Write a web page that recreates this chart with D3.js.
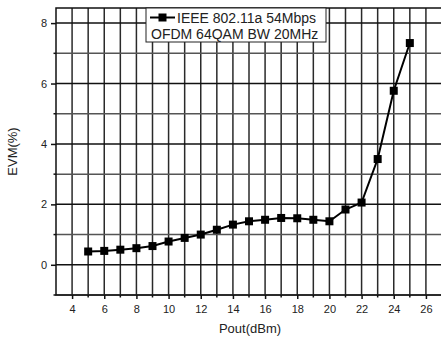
<!DOCTYPE html>
<html>
<head>
<meta charset="utf-8">
<script src="https://cdn.jsdelivr.net/npm/d3@7"></script>
<style>
  html, body { margin: 0; padding: 0; background: #fff; }
  svg { display: block; font-family: "Liberation Sans", Arial, sans-serif; }
</style>
</head>
<body>
<svg id="chart" width="441" height="342"></svg>
<script>
// Output power sweep (dBm) and measured EVM (%)
const pout = [5, 6, 7, 8, 9, 10, 11, 12, 13, 14, 15, 16, 17, 18, 19, 20, 21, 22, 23, 24, 25];
const evm = [0.44, 0.46, 0.50, 0.55, 0.62, 0.77, 0.89, 1.00, 1.16, 1.33, 1.44, 1.49, 1.55, 1.54, 1.49, 1.44, 1.83, 2.06, 3.50, 5.76, 7.34];
const xTicks = [4, 6, 8, 10, 12, 14, 16, 18, 20, 22, 24, 26];
const yTicks = [0, 2, 4, 6, 8];
const legendLines = ["IEEE 802.11a 54Mbps", "OFDM 64QAM BW 20MHz"];

const svg = d3.select("#chart");
const plotL = 56, plotR = 442, plotT = 8, plotB = 295;

const x = d3.scaleLinear().domain([3, 27]).range([plotL, plotR]);
const y = d3.scaleLinear().domain([-1, 8.5]).range([plotB, plotT]);

// grid: one line per unit, darker on labelled values
const gx = d3.range(4, 27);
const gy = d3.range(-1, 9);
svg.append("g").selectAll("line").data(gx).join("line")
  .attr("x1", d => x(d)).attr("x2", d => x(d))
  .attr("y1", plotT).attr("y2", plotB)
  .attr("stroke", "#2a2a2a")
  .attr("stroke-width", 1.5);
svg.append("g").selectAll("line").data(gy).join("line")
  .attr("x1", plotL).attr("x2", plotR)
  .attr("y1", d => y(d)).attr("y2", d => y(d))
  .attr("stroke", d => d % 2 === 0 ? "#111" : "#555")
  .attr("stroke-width", 1.5);

// frame
svg.append("rect").attr("x", plotL).attr("y", plotT)
  .attr("width", plotR - plotL).attr("height", plotB - plotT)
  .attr("fill", "none").attr("stroke", "#111").attr("stroke-width", 1.5);

// x axis
const xAxis = svg.append("g").attr("transform", `translate(0,${plotB})`)
  .call(d3.axisBottom(x).tickValues(xTicks).tickSize(4).tickPadding(6).tickFormat(d3.format("d")));
xAxis.select(".domain").remove();
xAxis.selectAll(".tick line").attr("stroke", "#111").attr("stroke-width", 1.5);
xAxis.selectAll("text").attr("font-size", 11).attr("fill", "#222");
// minor ticks on x
svg.append("g").selectAll("line").data(gx.filter(d => d % 2 === 1)).join("line")
  .attr("x1", d => x(d)).attr("x2", d => x(d))
  .attr("y1", plotB).attr("y2", plotB + 2.5)
  .attr("stroke", "#111").attr("stroke-width", 1.5);

// y axis
const yAxis = svg.append("g").attr("transform", `translate(${plotL},0)`)
  .call(d3.axisLeft(y).tickValues(yTicks).tickSize(5).tickPadding(4).tickFormat(d3.format("d")));
yAxis.select(".domain").remove();
yAxis.selectAll(".tick line").attr("stroke", "#111").attr("stroke-width", 1.5);
yAxis.selectAll("text").attr("font-size", 11).attr("fill", "#222");
// minor ticks on y
svg.append("g").selectAll("line").data(gy.filter(d => d % 2 !== 0)).join("line")
  .attr("x1", plotL - 2.5).attr("x2", plotL)
  .attr("y1", d => y(d)).attr("y2", d => y(d))
  .attr("stroke", "#111").attr("stroke-width", 1.5);

// axis titles
svg.append("text").attr("x", 250).attr("y", 333)
  .attr("text-anchor", "middle").attr("font-size", 13).attr("fill", "#222")
  .text("Pout(dBm)");
svg.append("text")
  .attr("transform", `translate(17,${(plotT + plotB) / 2}) rotate(-90)`)
  .attr("text-anchor", "middle").attr("font-size", 13).attr("fill", "#222")
  .text("EVM(%)");

// series
const pts = pout.map((p, i) => [p, evm[i]]);
svg.append("path").datum(pts)
  .attr("d", d3.line().x(d => x(d[0])).y(d => y(d[1])))
  .attr("fill", "none").attr("stroke", "#000").attr("stroke-width", 2);
const ms = 8;
svg.append("g").selectAll("rect").data(pts).join("rect")
  .attr("x", d => x(d[0]) - ms / 2).attr("y", d => y(d[1]) - ms / 2)
  .attr("width", ms).attr("height", ms).attr("fill", "#000");

// legend
const lg = svg.append("g");
lg.append("rect").attr("x", 146).attr("y", 8).attr("width", 180).attr("height", 34)
  .attr("fill", "#fff").attr("stroke", "#222").attr("stroke-width", 1);
lg.append("line").attr("x1", 150).attr("x2", 175).attr("y1", 17.5).attr("y2", 17.5)
  .attr("stroke", "#000").attr("stroke-width", 2);
lg.append("rect").attr("x", 158.5).attr("y", 13.5).attr("width", 8).attr("height", 8).attr("fill", "#000");
lg.append("text").attr("x", 177).attr("y", 22.5).attr("font-size", 14).attr("fill", "#222").text(legendLines[0]);
lg.append("text").attr("x", 151).attr("y", 38.5).attr("font-size", 14).attr("fill", "#222").text(legendLines[1]);
</script>
</body>
</html>
